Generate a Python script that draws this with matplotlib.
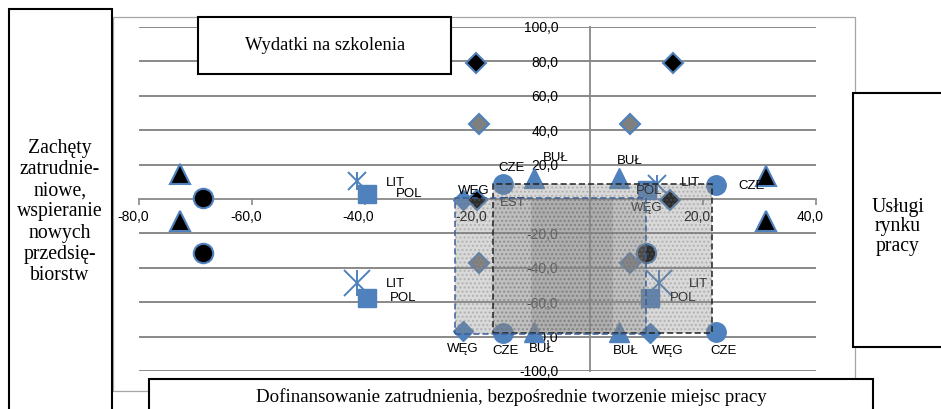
import matplotlib
matplotlib.use("Agg")
import matplotlib.pyplot as plt
import matplotlib.ticker as mticker
from matplotlib.patches import Rectangle
from matplotlib.transforms import ScaledTranslation

# ---------------------------------------------------------------
# Dane
# ---------------------------------------------------------------
# CZE - niebieskie koła
cze_x = [-15.5, 22.2, -15.5, 22.2]
cze_y = [8.7, 8.2, -78.0, -77.5]
# BUŁ - niebieskie trójkąty
bul_x = [-10.0, 5.0, -10.0, 5.0]
bul_y = [12.0, 12.5, -77.5, -77.5]
# WĘG - niebieskie romby
weg_x = [-22.5, -22.5, 10.5]
weg_y = [-0.5, -77.0, -78.0]
# POL - niebieskie kwadraty
pol_x = [-39.6, 10.0, 10.5, -39.6]
pol_y = [3.0, 5.2, -57.7, -57.7]
# LIT - gwiazdki (małe i duże)
lit_x = [-41.3, 11.9]
lit_y = [10.5, 8.7]
lit2_x = [-41.3, 12.1]
lit2_y = [-49.0, -49.0]
# czarne romby, szare romby, czarne koła, czarne trójkąty
bd_x = [-20.2, 14.6, -20.0, 14.2]
bd_y = [79.3, 79.3, -0.8, -0.5]
gd_x = [-19.7, 7.1, -19.8, 7.1]
gd_y = [43.7, 43.7, -37.3, -37.3]
bc_x = [-68.7, -68.7, 9.8]
bc_y = [0.3, -31.5, -31.5]
bt_x = [-72.8, -72.8, 31.1, 31.1]
bt_y = [14.5, -12.8, 13.6, -12.8]

# etykiety punktów
lab_txt = ["LIT", "POL", "LIT", "POL", "CZE", "BUŁ", "BUŁ", "LIT", "CZE",
           "WĘG", "EST", "POL", "WĘG", "LIT", "POL",
           "WĘG", "CZE", "BUŁ", "BUŁ", "WĘG", "CZE"]
lab_x = [-34.6, -32.1, -34.6, -33.2, -14.0, -6.2, 6.9, 17.7, 28.6,
         -20.6, -13.8, 10.5, 10.0, 19.2, 16.5,
         -22.7, -15.1, -8.7, 6.2, 13.7, 23.6]
lab_y = [9.3, 2.9, -49.5, -57.7, 18.0, 24.0, 22.0, 9.3, 7.6,
         4.7, -2.3, 4.7, -5.2, -49.5, -57.7,
         -87.4, -88.6, -87.4, -88.6, -88.6, -88.6]

# obszary zacienione (x0, x1, y0, y1)
area_a = (-17.2, 21.6, -78.0, 8.7)
area_b = (-24.0, 9.8, -78.5, 0.6)
area_c = (-10.6, 4.1, -78.0, 0.6)

x_ticks = [-80, -60, -40, -20, 20, 40]
y_ticks = [-100, -80, -60, -40, -20, 20, 40, 60, 80, 100]

BLUE = "#4F81BD"
GRID = "#898989"

W, H = 941, 409
fig = plt.figure(figsize=(W / 100, H / 100), dpi=100)
fig.patch.set_facecolor("white")

def fx(px):
    return px / W

def fy(py):
    return 1 - py / H

# ramka obszaru wykresu
fig.add_artist(Rectangle((fx(113), fy(391)), fx(855) - fx(113), fy(17) - fy(391),
                         transform=fig.transFigure, fill=False,
                         edgecolor="#a6a6a6", lw=0.9, zorder=-1))

ax = fig.add_axes([fx(139), fy(371), (816 - 139) / W, (371 - 27) / H])
ax.set_facecolor("none")
ax.set_xlim(-80, 40)
ax.set_ylim(-100, 100)

for s in ["top", "right"]:
    ax.spines[s].set_visible(False)
ax.spines["left"].set_position(("data", 0))
ax.spines["bottom"].set_position(("data", 0))
for s in ["left", "bottom"]:
    ax.spines[s].set_color(GRID)
    ax.spines[s].set_linewidth(1.3)

ax.set_xticks(x_ticks)
ax.set_yticks(y_ticks)
fmt = mticker.FuncFormatter(lambda v, _: f"{v:.1f}".replace(".", ","))
ax.xaxis.set_major_formatter(fmt)
ax.yaxis.set_major_formatter(fmt)
ax.tick_params(axis="x", direction="out", length=4, width=1.2, color=GRID,
               pad=4, labelsize=10, labelfontfamily="Liberation Sans")
ax.tick_params(axis="y", length=0, pad=23, labelsize=10,
               labelfontfamily="Liberation Sans")
off = ScaledTranslation(-6 / 100, 0, fig.dpi_scale_trans)
for lab in ax.get_xticklabels():
    lab.set_transform(lab.get_transform() + off)
ax.yaxis.grid(True, color=GRID, lw=1.4)
ax.set_axisbelow(True)

mk = dict(linestyle="none", zorder=3)
ax.plot(cze_x, cze_y, "o", ms=14, color=BLUE, mec=BLUE, **mk)
ax.plot(bul_x, bul_y, "^", ms=14, color=BLUE, mec=BLUE, **mk)
ax.plot(weg_x, weg_y, "D", ms=10, color=BLUE, mec=BLUE, **mk)
ax.plot(pol_x, pol_y, "s", ms=13, color=BLUE, mec=BLUE, **mk)
ax.plot(lit_x, lit_y, "x", ms=13, color=BLUE, mew=1.4, **mk)
ax.plot(lit_x, lit_y, "|", ms=13, color=BLUE, mew=1.4, **mk)
ax.plot(lit2_x, lit2_y, "x", ms=19, color=BLUE, mew=1.4, **mk)
ax.plot(lit2_x, lit2_y, "|", ms=19, color=BLUE, mew=1.4, **mk)
ax.plot(bd_x, bd_y, "D", ms=10, color="black", mec=BLUE, mew=1.5, **mk)
ax.plot(gd_x, gd_y, "D", ms=10, color="#7f7f7f", mec=BLUE, mew=1.5, **mk)
ax.plot(bc_x, bc_y, "o", ms=14, color="black", mec=BLUE, mew=1.5, **mk)
ax.plot(bt_x, bt_y, "^", ms=14, color="black", mec=BLUE, mew=1.5, **mk)

for t, x, y in zip(lab_txt, lab_x, lab_y):
    ax.text(x, y, t, ha="center", va="center", fontsize=9.5,
            family="Liberation Sans", zorder=4)

# zacienione prostokąty (wzór kropkowany)
for (x0, x1, y0, y1), edge in [(area_a, "#222222"), (area_b, "#3a5f9a"), (area_c, None)]:
    ax.add_patch(Rectangle((x0, y0), x1 - x0, y1 - y0, facecolor="#8c8c8c",
                           edgecolor="#6e6e6e", lw=0, hatch="....", alpha=0.33,
                           zorder=5))
    if edge:
        ax.add_patch(Rectangle((x0, y0), x1 - x0, y1 - y0, fill=False,
                               edgecolor=edge, lw=1.1, ls=(0, (4, 2)), zorder=6))

# pola tekstowe
def box(x0, y0, x1, y1, text, cx, cy, size, spacing=1.12):
    fig.add_artist(Rectangle((fx(x0), fy(y1)), fx(x1) - fx(x0), fy(y0) - fy(y1),
                             transform=fig.transFigure, facecolor="white",
                             edgecolor="black", lw=1.5, zorder=10))
    fig.text(fx(cx), fy(cy), text, ha="center", va="center", fontsize=size,
             family="Liberation Serif", linespacing=spacing, zorder=11)

box(198, 17, 451, 74, "Wydatki na szkolenia", 325, 46, 13.4)
box(9, 9, 112, 420, "Zachęty\nzatrudnie-\nniowe,\nwspieranie\nnowych\nprzedsię-\nbiorstw",
    60, 212, 14.2, 1.16)
box(853, 93, 950, 347, "Usługi\nrynku\npracy", 898, 227, 14.2, 1.05)
box(149, 379, 873, 420, "Dofinansowanie zatrudnienia, bezpośrednie tworzenie miejsc pracy",
    511, 397, 13.6)

fig.savefig("out.png", dpi=100)
